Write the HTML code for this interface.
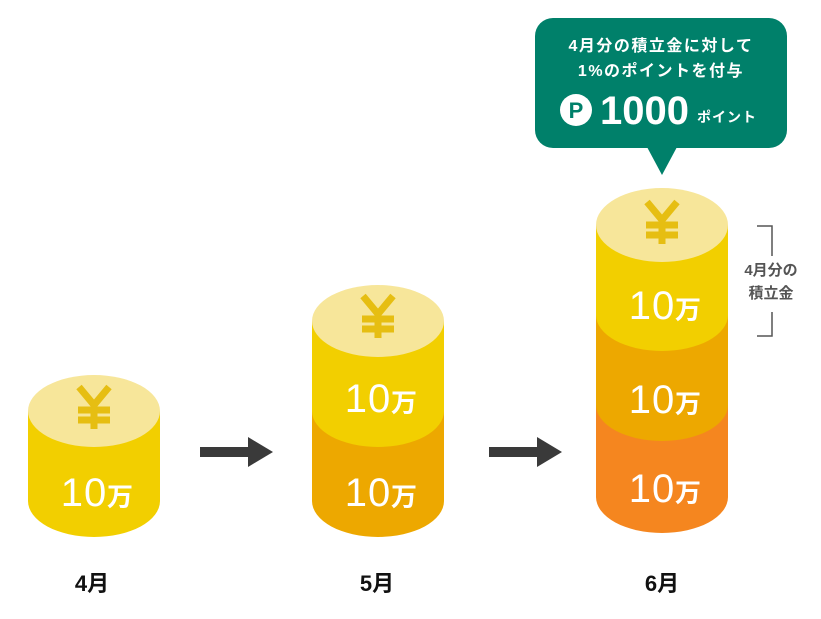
<!DOCTYPE html>
<html><head><meta charset="utf-8"><style>
html,body{margin:0;padding:0;background:#fff;}
svg{display:block;font-family:"Liberation Sans","Noto Sans CJK JP",sans-serif;}
</style></head><body>
<svg width="821" height="619" viewBox="0 0 821 619" xmlns="http://www.w3.org/2000/svg">
<defs>
<g id="yen" fill="none" stroke="#e6be12" stroke-width="7">
<polyline points="-15,-22 0,-4 15,-22"/>
<line x1="0" y1="-4" x2="0" y2="20"/>
<line x1="-16" y1="1" x2="16" y2="1"/>
<line x1="-16" y1="11" x2="16" y2="11"/>
</g>
<g id="ten"><text x="-6" y="0" text-anchor="middle" font-size="40" fill="#fff" letter-spacing="1">10</text><text x="30" y="0" text-anchor="middle" font-size="26" font-weight="bold" fill="#fff">万</text></g>
</defs>
<!-- coin 1 -->
<path d="M28 411 V501 A66 36 0 0 0 160 501 V411 Z" fill="#f2cf00"/>
<ellipse cx="94" cy="411" rx="66" ry="36" fill="#f7e69a"/>
<use href="#yen" x="94" y="409"/>
<use href="#ten" x="90" y="506"/>
<!-- coin 2 -->
<path d="M312 411 V501 A66 36 0 0 0 444 501 V411 Z" fill="#eda800"/>
<path d="M312 321 V411 A66 36 0 0 0 444 411 V321 Z" fill="#f2cf00"/>
<ellipse cx="378" cy="321" rx="66" ry="36" fill="#f7e69a"/>
<use href="#yen" x="378" y="318"/>
<use href="#ten" x="374" y="412"/>
<use href="#ten" x="374" y="506"/>
<!-- coin 3 -->
<path d="M596 405 V497 A66 36 0 0 0 728 497 V405 Z" fill="#f5861f"/>
<path d="M596 315 V405 A66 36 0 0 0 728 405 V315 Z" fill="#eda800"/>
<path d="M596 225 V315 A66 36 0 0 0 728 315 V225 Z" fill="#f2cf00"/>
<ellipse cx="662" cy="225" rx="66" ry="37" fill="#f7e69a"/>
<use href="#yen" x="662" y="224"/>
<use href="#ten" x="658" y="319"/>
<use href="#ten" x="658" y="413"/>
<use href="#ten" x="658" y="502"/>
<!-- arrows -->
<rect x="200" y="447" width="50" height="10" fill="#3a3a3a"/>
<polygon points="248,437 273,452 248,467" fill="#3a3a3a"/>
<rect x="489" y="447" width="50" height="10" fill="#3a3a3a"/>
<polygon points="537,437 562,452 537,467" fill="#3a3a3a"/>
<!-- callout -->
<rect x="535" y="18" width="252" height="130" rx="18" fill="#00806a"/>
<polygon points="647,147 677,147 662,175" fill="#00806a"/>
<text x="661" y="51" text-anchor="middle" font-size="16" font-weight="bold" fill="#fff" letter-spacing="1.5">4月分の積立金に対して</text>
<text x="661" y="76" text-anchor="middle" font-size="16" font-weight="bold" fill="#fff" letter-spacing="1.5">1%のポイントを付与</text>
<circle cx="576" cy="110" r="16" fill="#fff"/>
<text x="576" y="118" text-anchor="middle" font-size="22" font-weight="bold" fill="#00806a">P</text>
<text x="600" y="124" font-size="40" font-weight="bold" fill="#fff">1000</text>
<text x="697" y="122" font-size="14" font-weight="bold" fill="#fff" letter-spacing="1">ポイント</text>
<!-- bracket -->
<polyline points="757,226 772,226 772,256" fill="none" stroke="#555" stroke-width="1.5"/>
<polyline points="772,312 772,336 757,336" fill="none" stroke="#555" stroke-width="1.5"/>
<text x="771" y="275" text-anchor="middle" font-size="15" font-weight="bold" fill="#555">4月分の</text>
<text x="771" y="298" text-anchor="middle" font-size="15" font-weight="bold" fill="#555">積立金</text>
<!-- labels -->
<text x="92" y="591" text-anchor="middle" font-size="22" font-weight="bold" fill="#111">4月</text>
<text x="377" y="591" text-anchor="middle" font-size="22" font-weight="bold" fill="#111">5月</text>
<text x="662" y="591" text-anchor="middle" font-size="22" font-weight="bold" fill="#111">6月</text>
</svg>
</body></html>
